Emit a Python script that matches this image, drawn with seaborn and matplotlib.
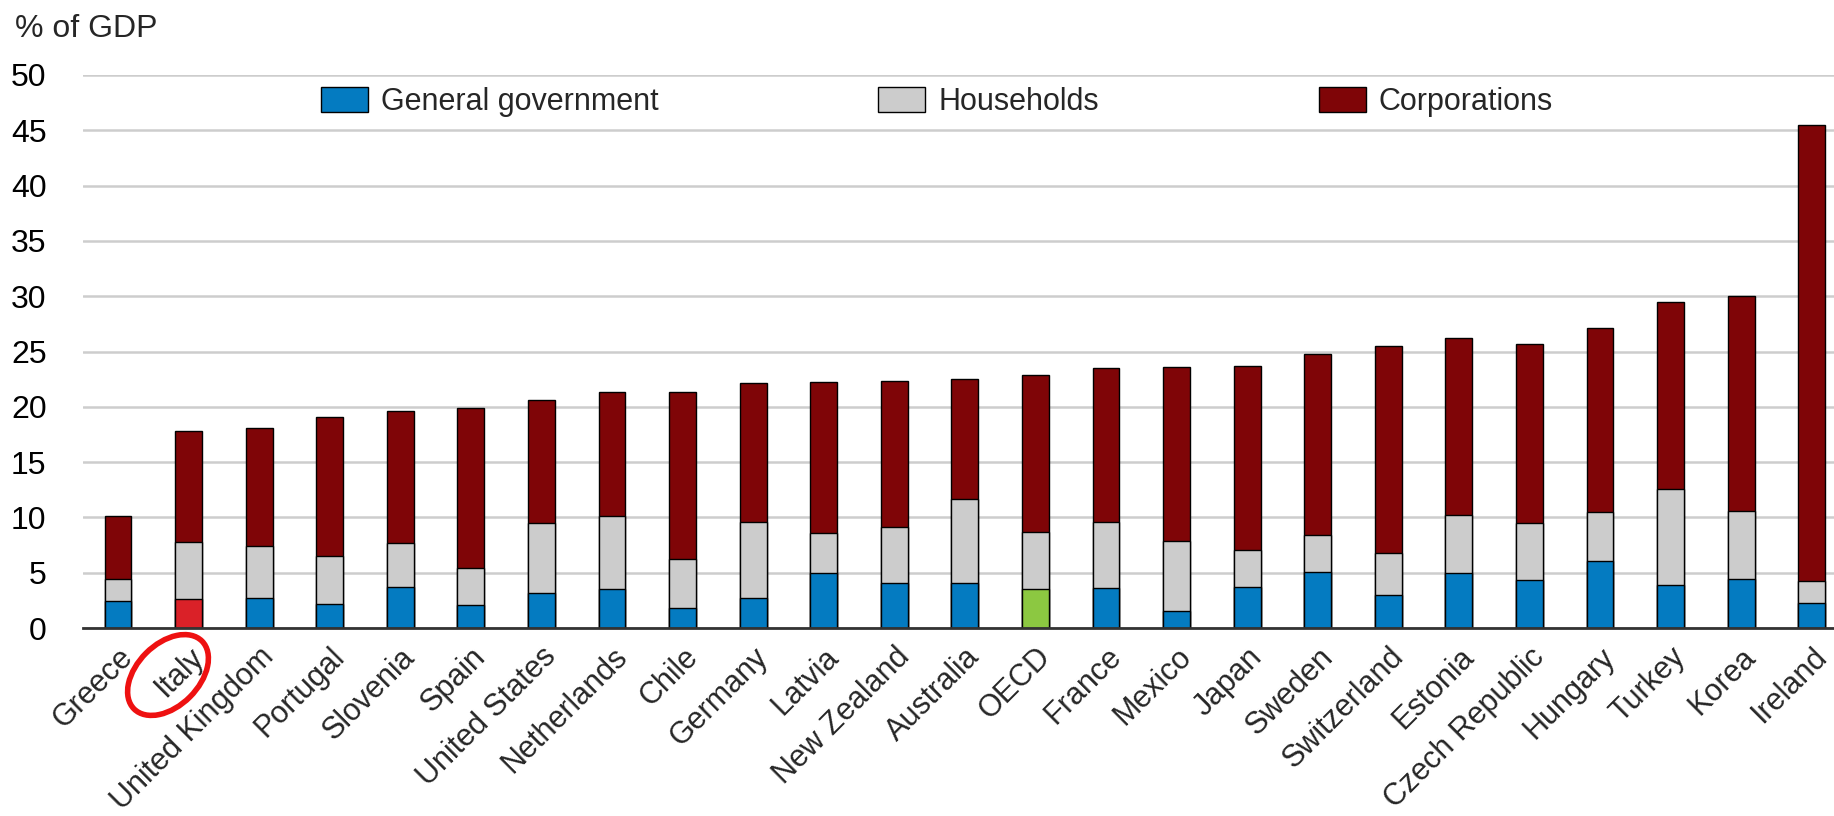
import numpy as np
import pandas as pd
import matplotlib
matplotlib.use('Agg')
import matplotlib.pyplot as plt
from matplotlib.patches import Patch, Ellipse
from matplotlib.transforms import IdentityTransform
import seaborn as sns


# values (% of GDP)
countries = ['Greece', 'Italy', 'United Kingdom', 'Portugal', 'Slovenia', 'Spain',
             'United States', 'Netherlands', 'Chile', 'Germany', 'Latvia', 'New Zealand',
             'Australia', 'OECD', 'France', 'Mexico', 'Japan', 'Sweden', 'Switzerland',
             'Estonia', 'Czech Republic', 'Hungary', 'Turkey', 'Korea', 'Ireland']

general_government = [2.4, 2.65, 2.75, 2.2, 3.75, 2.05, 3.15, 3.55, 1.85, 2.7, 5.0, 4.1,
                      4.05, 3.55, 3.6, 1.5, 3.7, 5.1, 3.0, 4.95, 4.35, 6.1, 3.9, 4.45, 2.3]

households = [2.0, 5.15, 4.65, 4.3, 3.9, 3.4, 6.3, 6.55, 4.35, 6.85, 3.55, 5.05,
              7.6, 5.1, 5.95, 6.4, 3.35, 3.35, 3.8, 5.3, 5.1, 4.4, 8.7, 6.1, 1.95]

corporations = [5.75, 10.0, 10.65, 12.55, 11.95, 14.45, 11.2, 11.2, 15.15, 12.6, 13.65, 13.2,
                10.85, 14.2, 13.95, 15.7, 16.65, 16.35, 18.7, 15.95, 16.25, 16.6, 16.9, 19.45, 41.25]

series_labels = ['General government', 'Households', 'Corporations']

# colours
c_gov = '#047bc1'
c_hh = '#cccccc'
c_corp = '#7f0507'
c_italy = '#da2128'
c_oecd = '#8cc841'

df = pd.DataFrame({'country': countries,
                   'gov': general_government,
                   'hh': households,
                   'corp': corporations})
df['gov_hh'] = df['gov'] + df['hh']
df['total'] = df['gov_hh'] + df['corp']

gov_palette = {c: c_gov for c in countries}
gov_palette['Italy'] = c_italy
gov_palette['OECD'] = c_oecd

sns.set_theme(style='white')
plt.rcParams['font.family'] = ['Liberation Sans', 'DejaVu Sans']

fs = 22
fig = plt.figure(figsize=(18.34, 8.16), dpi=100)
ax = fig.add_axes([82.7 / 1834, 188 / 816, (1847 - 82.7) / 1834, (741 - 188) / 816])

bar_kw = dict(width=0.38, edgecolor='black', linewidth=1.0, saturation=1)

# stacked bars drawn as overlapping cumulative heights
sns.barplot(data=df, x='country', y='total', color=c_corp, ax=ax, **bar_kw)
sns.barplot(data=df, x='country', y='gov_hh', color=c_hh, ax=ax, **bar_kw)
sns.barplot(data=df, x='country', y='gov', hue='country', palette=gov_palette,
            legend=False, ax=ax, **bar_kw)

ax.set_xlim(-0.5, len(countries) - 0.5)
ax.set_ylim(0, 50)
ax.set_yticks(range(0, 51, 5))
ax.set_xlabel('')
ax.set_ylabel('')

ax.yaxis.grid(True, color='#cdcdcd', linewidth=1.8)
ax.set_axisbelow(True)
for s in ['top', 'right', 'left']:
    ax.spines[s].set_visible(False)
ax.spines['bottom'].set_color('#333333')
ax.spines['bottom'].set_linewidth(2)

ax.tick_params(axis='y', length=0, pad=26, labelsize=fs + 1, labelcolor='black')
ax.set_xticks(range(len(countries)))
ax.set_xticklabels(countries, rotation=45, ha='right', rotation_mode='anchor', fontsize=fs)
ax.tick_params(axis='x', which='major', length=0, pad=10)
ax.set_xticks(np.arange(len(countries) - 1) + 0.5, minor=True)
ax.tick_params(axis='x', which='minor', direction='in', length=9, width=1.5, color='black')

fig.text(15 / 1834, 1 - 37 / 816, '% of GDP', fontsize=fs + 1, ha='left', va='baseline')

handles = [Patch(facecolor=c_gov, edgecolor='black', linewidth=1),
           Patch(facecolor=c_hh, edgecolor='black', linewidth=1),
           Patch(facecolor=c_corp, edgecolor='black', linewidth=1)]
fig.legend(handles, series_labels, loc='center', bbox_to_anchor=(937 / 1834, 1 - 102 / 816),
           ncol=3, frameon=False, fontsize=fs, handlelength=1.54, handleheight=0.88,
           handletextpad=0.42, columnspacing=7.2, borderpad=0)

# red circle around Italy
ell = Ellipse((168, 816 - 675), width=96, height=62, angle=45, fill=False,
              edgecolor='#ee1111', linewidth=4, transform=IdentityTransform())
fig.patches.append(ell)

fig.savefig('out.png', dpi=100, facecolor='white')
